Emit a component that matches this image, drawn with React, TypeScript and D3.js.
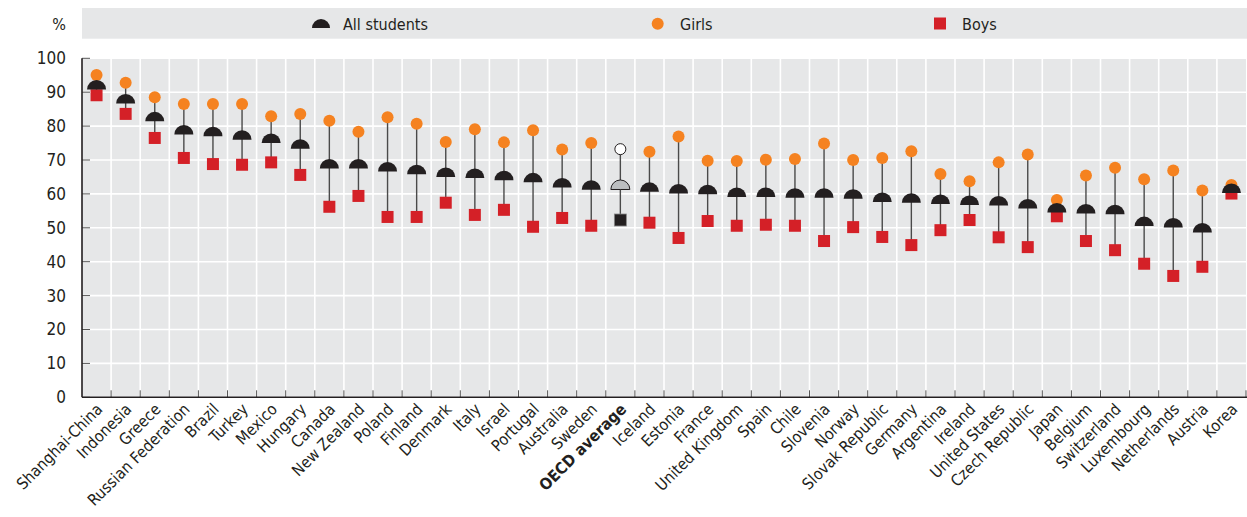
import React from "react";
import * as d3 from "d3";

const countries = [
  "Shanghai-China", "Indonesia", "Greece", "Russian Federation", "Brazil", "Turkey", "Mexico", "Hungary",
  "Canada", "New Zealand", "Poland", "Finland", "Denmark", "Italy", "Israel", "Portugal", "Australia",
  "Sweden", "OECD average", "Iceland", "Estonia", "France", "United Kingdom", "Spain", "Chile", "Slovenia",
  "Norway", "Slovak Republic", "Germany", "Argentina", "Ireland", "United States", "Czech Republic", "Japan",
  "Belgium", "Switzerland", "Luxembourg", "Netherlands", "Austria", "Korea",
];
const allStudents = [
  90.8, 86.7, 81.4, 77.5, 77.0, 76.0, 75.0, 73.3, 67.5, 67.5, 66.6, 65.8, 65.0, 64.7, 64.0, 63.4, 61.9,
  61.2, 61.3, 60.6, 60.1, 59.9, 59.1, 59.1, 58.9, 58.9, 58.6, 57.6, 57.4, 57.0, 56.7, 56.6, 55.7, 54.5,
  54.2, 54.0, 50.5, 50.1, 48.6, 60.3,
];
const girls = [
  95.1, 92.8, 88.5, 86.5, 86.5, 86.5, 82.9, 83.6, 81.6, 78.3, 82.6, 80.7, 75.3, 79.1, 75.2, 78.8, 73.1,
  75.0, 73.2, 72.4, 76.9, 69.8, 69.7, 70.1, 70.3, 74.9, 70.0, 70.6, 72.6, 65.9, 63.7, 69.3, 71.6, 58.2,
  65.4, 67.7, 64.3, 66.9, 61.0, 62.6,
];
const boys = [
  89.1, 83.6, 76.5, 70.6, 68.8, 68.6, 69.3, 65.6, 56.2, 59.4, 53.2, 53.2, 57.4, 53.8, 55.3, 50.3, 52.9,
  50.6, 52.3, 51.5, 47.0, 52.0, 50.6, 50.9, 50.6, 46.1, 50.2, 47.3, 44.9, 49.3, 52.3, 47.2, 44.3, 53.4,
  46.1, 43.4, 39.4, 35.8, 38.5, 60.1,
];
const yTicks = [0, 10, 20, 30, 40, 50, 60, 70, 80, 90, 100];
const legendLabels = ["All students", "Girls", "Boys"];

const FONT = "'Liberation Sans Narrow', 'Arial Narrow', 'DejaVu Sans Condensed', sans-serif";
const ORANGE = "#f58220";
const RED = "#d42027";
const DARK = "#231f20";
const BG = "#e6e7e8";

export default function App() {
  const W = 1247, H = 517;
  const left = 82, right = 1246, top = 58.3, bottom = 397.3;
  const x = d3.scaleBand<string>().domain(countries).range([left, right]).padding(0);
  const y = d3.scaleLinear().domain([0, 100]).range([bottom, top]);
  const bw = x.bandwidth();
  const half = d3.arc()({ innerRadius: 0, outerRadius: 9.5, startAngle: -Math.PI / 2, endAngle: Math.PI / 2 } as any) as string;
  const halfLegend = d3.arc()({ innerRadius: 0, outerRadius: 9, startAngle: -Math.PI / 2, endAngle: Math.PI / 2 } as any) as string;
  const boundaries = countries.map((c) => x(c)!).concat([right]);

  return (
    <svg width={W} height={H} style={{ position: "absolute", left: 0, top: 0, background: "#fff" }} fontFamily={FONT}>
      {/* legend */}
      <rect x={82} y={8} width={1165} height={30.7} fill={BG} />
      <text x={66} y={30} textAnchor="end" fontSize={16} fill={DARK}>%</text>
      <path d={halfLegend} transform="translate(321,28)" fill={DARK} />
      <text x={343} y={29.5} fontSize={16} fill={DARK}>{legendLabels[0]}</text>
      <circle cx={657.7} cy={23.7} r={6} fill={ORANGE} />
      <text x={680} y={29.5} fontSize={16} fill={DARK}>{legendLabels[1]}</text>
      <rect x={934} y={17.5} width={12} height={12} fill={RED} />
      <text x={962} y={29.5} fontSize={16} fill={DARK}>{legendLabels[2]}</text>

      {/* plot background */}
      <rect x={left} y={top} width={right - left} height={bottom - top} fill={BG} />
      {yTicks.map((t) => (
        <line key={"h" + t} x1={left} x2={right} y1={y(t)} y2={y(t)} stroke="#fff" strokeWidth={1.6} />
      ))}
      {boundaries.slice(1, -1).map((b, i) => (
        <line key={"v" + i} x1={b} x2={b} y1={top} y2={bottom} stroke="#fff" strokeWidth={1.6} />
      ))}
      {/* axes */}
      {boundaries.slice(1).map((b, i) => (
        <line key={"xt" + i} x1={b} x2={b} y1={bottom - 7} y2={bottom} stroke="#555" strokeWidth={1} />
      ))}
      {yTicks.map((t) => (
        <line key={"yt" + t} x1={left} x2={left + 8} y1={y(t)} y2={y(t)} stroke="#555" strokeWidth={1} />
      ))}
      <line x1={left} x2={left} y1={top} y2={bottom} stroke={DARK} strokeWidth={1.6} />
      <line x1={left} x2={right + 1} y1={bottom} y2={bottom} stroke={DARK} strokeWidth={1.6} />
      {yTicks.map((t) => (
        <text key={"yl" + t} x={66} y={y(t)} dy="0.35em" textAnchor="end" fontSize={17} fill={DARK}>{t}</text>
      ))}

      {/* stems */}
      {countries.map((c, i) => (
        <line key={"s" + c} x1={x(c)! + bw / 2} x2={x(c)! + bw / 2} y1={y(girls[i])} y2={y(boys[i])} stroke="#4a4a4a" strokeWidth={1.4} />
      ))}
      {/* markers */}
      {countries.map((c, i) => {
        const cx = x(c)! + bw / 2;
        const oecd = c === "OECD average";
        return (
          <g key={"m" + c}>
            <rect x={cx - 6} y={y(boys[i]) - 6} width={12} height={12} fill={oecd ? DARK : RED} stroke={oecd ? "#888" : "none"} strokeWidth={0.8} />
            <circle cx={cx} cy={y(girls[i])} r={oecd ? 5.5 : 6} fill={oecd ? "#fff" : ORANGE} stroke={oecd ? DARK : "none"} strokeWidth={1} />
            <path d={half} transform={`translate(${cx},${y(allStudents[i])})`} fill={oecd ? "#bcbec0" : DARK} stroke={oecd ? DARK : "none"} strokeWidth={1} />
          </g>
        );
      })}

      {/* x labels */}
      {countries.map((c) => {
        const cx = x(c)! + bw / 2;
        return (
          <text key={"xl" + c} transform={`translate(${cx + 3},${bottom + 9}) rotate(-45)`} textAnchor="end" dy="0.35em"
            fontSize={16} fill={DARK} fontWeight={c === "OECD average" ? "bold" : "normal"}>{c}</text>
        );
      })}
    </svg>
  );
}
